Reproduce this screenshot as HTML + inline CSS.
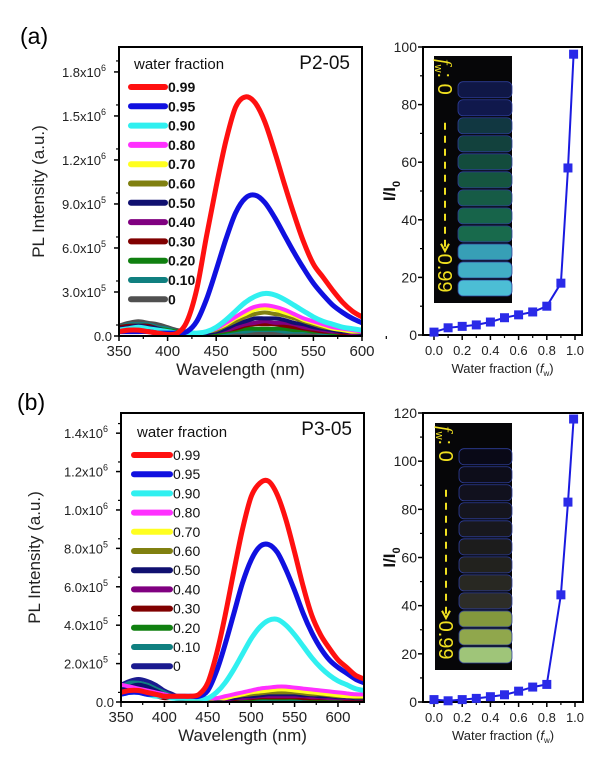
<!DOCTYPE html>
<html><head><meta charset="utf-8"><style>
body{margin:0;background:#fff;width:600px;height:771px;overflow:hidden;font-family:"Liberation Sans",Arial,sans-serif}
svg{position:absolute;left:0;top:0}
</style></head><body>
<svg id="fig" width="600" height="771" viewBox="0 0 600 771" xmlns="http://www.w3.org/2000/svg">
<text x="20" y="44" font-size="23" font-family="Liberation Sans">(a)</text>
<text x="17" y="410" font-size="23" font-family="Liberation Sans">(b)</text>
</svg>
<script>
// ---------- data ----------
const seriesLabels=["0.99","0.95","0.90","0.80","0.70","0.60","0.50","0.40","0.30","0.20","0.10","0"];
const seriesColorsA=["#ff1010","#1010e0","#30f0f0","#ff30ff","#ffff20","#808010","#101070","#800080","#800000","#108010","#108080","#505050"];
const seriesColorsB=["#ff1010","#1010e0","#30f0f0","#ff30ff","#ffff20","#808010","#101070","#800080","#800000","#108010","#108080","#1a1a90"];
const wavelengthsA=[350,360,370,380,390,400,410,420,430,440,450,460,470,480,490,500,510,520,530,540,550,560,570,580,590,600];
const specA099=[0.3,0.4,0.4,0.3,0.2,0.1,0.2,1.0,3.2,6.8,10.2,13.3,15.6,16.3,15.9,14.6,12.6,10.4,8.3,6.4,4.9,4.0,3.1,2.3,1.7,1.3];
const specA095=[0.3,0.3,0.3,0.3,0.2,0.2,0.2,0.3,1.0,2.5,4.5,6.6,8.4,9.4,9.6,9.1,8.1,6.9,5.7,4.6,3.6,2.8,2.1,1.6,1.2,0.9];
const specA090=[0.4,0.5,0.6,0.5,0.4,0.3,0.2,0.2,0.2,0.3,0.6,1.1,1.7,2.3,2.7,2.9,2.8,2.5,2.1,1.7,1.3,1.0,0.8,0.6,0.5,0.4];
const specA080=[0.3,0.4,0.4,0.4,0.3,0.2,0.2,0.2,0.2,0.3,0.5,0.9,1.3,1.7,2.0,2.1,2.0,1.8,1.5,1.2,1.0,0.8,0.6,0.5,0.4,0.3];
const specA070=[0.3,0.3,0.4,0.3,0.3,0.2,0.2,0.2,0.2,0.3,0.5,0.8,1.2,1.5,1.8,1.9,1.8,1.6,1.4,1.1,0.9,0.7,0.5,0.4,0.3,0.3];
const specA060=[0.4,0.5,0.5,0.5,0.4,0.3,0.2,0.2,0.2,0.3,0.4,0.7,1.0,1.3,1.5,1.6,1.5,1.4,1.2,1.0,0.8,0.6,0.5,0.4,0.3,0.3];
const specA050=[0.5,0.6,0.7,0.6,0.5,0.3,0.2,0.2,0.2,0.2,0.3,0.5,0.8,1.0,1.2,1.2,1.2,1.1,0.9,0.8,0.6,0.5,0.4,0.3,0.3,0.2];
const specA040=[0.4,0.5,0.5,0.5,0.4,0.3,0.2,0.2,0.2,0.2,0.3,0.4,0.6,0.8,0.9,1.0,0.9,0.9,0.8,0.6,0.5,0.4,0.3,0.3,0.2,0.2];
const specA030=[0.6,0.7,0.7,0.7,0.5,0.3,0.2,0.2,0.2,0.2,0.3,0.4,0.5,0.7,0.8,0.8,0.8,0.7,0.6,0.5,0.4,0.3,0.3,0.2,0.2,0.2];
const specA020=[0.5,0.6,0.7,0.6,0.5,0.4,0.3,0.2,0.2,0.2,0.2,0.3,0.4,0.5,0.5,0.5,0.5,0.5,0.4,0.4,0.3,0.3,0.2,0.2,0.2,0.2];
const specA010=[0.6,0.8,0.8,0.8,0.6,0.5,0.3,0.2,0.2,0.2,0.2,0.2,0.3,0.3,0.4,0.4,0.4,0.3,0.3,0.3,0.3,0.2,0.2,0.2,0.2,0.2];
const specA000=[0.7,0.9,1.0,0.9,0.8,0.6,0.4,0.3,0.2,0.2,0.2,0.2,0.2,0.2,0.2,0.2,0.2,0.2,0.2,0.2,0.2,0.2,0.2,0.1,0.1,0.1];
const wavelengthsB=[350,360,370,380,390,400,410,420,430,440,450,460,470,480,490,500,510,520,530,540,550,560,570,580,590,600,610,620,630];
const specB099=[0.5,0.6,0.6,0.5,0.4,0.3,0.3,0.3,0.3,0.4,1.0,2.5,4.5,6.8,9.0,10.7,11.4,11.5,10.8,9.5,7.8,6.0,4.5,3.5,2.8,2.2,1.8,1.4,1.2];
const specB095=[0.4,0.5,0.5,0.4,0.4,0.3,0.3,0.3,0.3,0.3,0.6,1.6,3.0,4.6,6.2,7.4,8.1,8.2,7.8,6.9,5.8,4.6,3.6,2.8,2.2,1.8,1.5,1.2,1.0];
const specB090=[0.4,0.5,0.5,0.4,0.3,0.3,0.2,0.2,0.2,0.2,0.2,0.5,1.0,1.7,2.5,3.3,3.9,4.25,4.3,4.0,3.5,2.9,2.3,1.8,1.4,1.1,0.9,0.7,0.6];
const specB080=[0.9,0.8,0.7,0.6,0.5,0.4,0.3,0.2,0.2,0.2,0.2,0.2,0.3,0.4,0.5,0.6,0.7,0.75,0.8,0.8,0.75,0.7,0.65,0.6,0.55,0.5,0.45,0.4,0.4];
const specB070=[0.5,0.6,0.6,0.5,0.4,0.3,0.2,0.2,0.2,0.2,0.2,0.2,0.2,0.3,0.4,0.5,0.55,0.6,0.65,0.65,0.6,0.55,0.5,0.45,0.4,0.35,0.3,0.3,0.3];
const specB060=[0.5,0.6,0.6,0.5,0.4,0.3,0.2,0.2,0.1,0.1,0.1,0.2,0.2,0.3,0.35,0.4,0.45,0.5,0.5,0.5,0.5,0.45,0.4,0.4,0.35,0.3,0.3,0.25,0.25];
const specB050=[0.6,0.8,0.9,0.8,0.6,0.4,0.3,0.2,0.1,0.1,0.1,0.1,0.2,0.2,0.3,0.3,0.35,0.4,0.4,0.4,0.4,0.35,0.35,0.3,0.3,0.25,0.25,0.2,0.2];
const specB040=[0.6,0.6,0.6,0.5,0.4,0.3,0.2,0.2,0.1,0.1,0.1,0.1,0.1,0.2,0.2,0.25,0.3,0.3,0.3,0.3,0.3,0.3,0.25,0.25,0.2,0.2,0.2,0.2,0.2];
const specB030=[0.4,0.5,0.5,0.4,0.3,0.2,0.2,0.1,0.1,0.1,0.1,0.1,0.1,0.15,0.2,0.2,0.25,0.25,0.25,0.25,0.25,0.2,0.2,0.2,0.2,0.2,0.15,0.15,0.15];
const specB020=[0.6,0.8,0.8,0.7,0.5,0.4,0.3,0.2,0.1,0.1,0.1,0.1,0.1,0.1,0.15,0.15,0.2,0.2,0.2,0.2,0.2,0.2,0.15,0.15,0.15,0.15,0.1,0.1,0.1];
const specB010=[0.8,1.0,1.0,0.9,0.7,0.5,0.3,0.2,0.1,0.1,0.1,0.1,0.1,0.1,0.1,0.1,0.1,0.1,0.1,0.1,0.1,0.1,0.1,0.1,0.1,0.1,0.1,0.1,0.1];
const specB000=[0.9,1.1,1.2,1.1,0.9,0.6,0.4,0.2,0.1,0.1,0.1,0.1,0.1,0.1,0.1,0.1,0.1,0.1,0.1,0.1,0.1,0.1,0.1,0.1,0.1,0.1,0.1,0.1,0.1];
const spectraA=[specA099,specA095,specA090,specA080,specA070,specA060,specA050,specA040,specA030,specA020,specA010,specA000];
const spectraB=[specB099,specB095,specB090,specB080,specB070,specB060,specB050,specB040,specB030,specB020,specB010,specB000];
const yTickValsA=[0,3,6,9,12,15,18];
const yTickLabelsA=[["0.0",""],["3.0x10","5"],["6.0x10","5"],["9.0x10","5"],["1.2x10","6"],["1.5x10","6"],["1.8x10","6"]];
const yTickValsB=[0,2,4,6,8,10,12,14];
const yTickLabelsB=[["0.0",""],["2.0x10","5"],["4.0x10","5"],["6.0x10","5"],["8.0x10","5"],["1.0x10","6"],["1.2x10","6"],["1.4x10","6"]];
const xTicksA=[350,400,450,500,550,600];
const xTicksB=[350,400,450,500,550,600];
const fractions=[0,0.1,0.2,0.3,0.4,0.5,0.6,0.7,0.8,0.9,0.95,0.99];
const ratioA=[1,2.5,3,3.5,4.5,6,7,8,10,18,58,97.5];
const ratioB=[1,0.5,1,1.5,2.2,3,4.5,6.2,7.3,44.5,83,117.5];
const ratioTicksA=[0,20,40,60,80,100];
const ratioTicksB=[0,20,40,60,80,100,120];
const fracTicks=[0,0.2,0.4,0.6,0.8,1.0];
const tubeColorsA=["#10184a","#111a50","#123a45","#134540","#14503f","#165a44","#17604a","#186a4e","#1a7050","#3aa8c0","#45b8d0","#50c8e0"];
const tubeColorsB=["#0a0a18","#0e0e1c","#121220","#161620","#1a1a20","#1e1e1e","#242420","#2a2a24","#30302a","#8aa040","#98b050","#a8d080"];

// ---------- drawing ----------
const NS="http://www.w3.org/2000/svg";
const svg=document.getElementById('fig');
function el(tag,attrs,parent){const e=document.createElementNS(NS,tag);for(const k in attrs)e.setAttribute(k,attrs[k]);(parent||svg).appendChild(e);return e;}
function smooth(pts){
  let d='M'+pts[0][0].toFixed(1)+','+pts[0][1].toFixed(1);
  for(let i=0;i<pts.length-1;i++){
    const p0=pts[Math.max(0,i-1)],p1=pts[i],p2=pts[i+1],p3=pts[Math.min(pts.length-1,i+2)];
    const c1=[p1[0]+(p2[0]-p0[0])/6,p1[1]+(p2[1]-p0[1])/6];
    const c2=[p2[0]-(p3[0]-p1[0])/6,p2[1]-(p3[1]-p1[1])/6];
    d+=`C${c1[0].toFixed(1)},${c1[1].toFixed(1)} ${c2[0].toFixed(1)},${c2[1].toFixed(1)} ${p2[0].toFixed(1)},${p2[1].toFixed(1)}`;
  }
  return d;
}

function spectrumPanel(o){
  const g=el('g',{});
  
  
  const sx=v=>o.x0+(v-o.xmin)/(o.xmax-o.xmin)*(o.x1-o.x0);
  const sy=v=>o.y0-(v)/(o.ymax)*(o.y0-o.y1);
  const cp=el('clipPath',{id:'clip-'+o.name},g);
  el('rect',{x:o.x0,y:o.y1,width:o.x1-o.x0,height:o.y0-o.y1},cp);
  for(let s=o.spectra.length-1;s>=0;s--){
    const d=smooth(o.spectra[s].map((v,i)=>[sx(o.wl[i]),sy(v)]));
    const p=el('path',{d:d,fill:'none',stroke:o.colors[s],'stroke-width':s<3?5:4,'stroke-linejoin':'round','clip-path':`url(#clip-${o.name})`},g);
    
    
  }
  const fr=el('rect',{x:o.x0,y:o.y1,width:o.x1-o.x0,height:o.y0-o.y1,fill:'none',stroke:'#000','stroke-width':2},g);
  
  
  o.yTicks.forEach((v,i)=>{
    const y=sy(v);
    el('line',{x1:o.x0-5,x2:o.x0,y1:y,y2:y,stroke:'#000','stroke-width':1.5},g);
    const mid=sy(v+o.yStep/2);
    if(mid>o.y1)el('line',{x1:o.x0-3,x2:o.x0,y1:mid,y2:mid,stroke:'#000','stroke-width':1.2},g);
    const t=el('text',{x:o.x0-7,y:y+5,'font-size':13,'text-anchor':'end',fill:'#222'},g);
    
    
    const lab=o.yLabels[i];
    if(lab[1]){t.textContent=lab[0];const s=el('tspan',{dy:-6,'font-size':9},t);s.textContent=lab[1];t.setAttribute('x',o.x0-13);}
    else t.textContent=lab[0];
  });
  o.xTicks.forEach(v=>{
    const x=sx(v);
    el('line',{x1:x,x2:x,y1:o.y0,y2:o.y0+5,stroke:'#000','stroke-width':1.5},g);
    el('line',{x1:sx(v+25),x2:sx(v+25),y1:o.y0,y2:o.y0+3,stroke:'#000','stroke-width':1.2},g);
    const t=el('text',{x:x,y:o.y0+20,'font-size':15,'text-anchor':'middle',fill:'#222'},g);
    
    
    t.textContent=v;
  });
  const xt=el('text',{x:(o.x0+o.x1)/2,y:o.y0+39,'font-size':17,'text-anchor':'middle',fill:'#222'},g);
  
  
  xt.textContent='Wavelength (nm)';
  const yt=el('text',{x:0,y:0,'font-size':17,'text-anchor':'middle',fill:'#222',transform:`translate(${o.ytx},${(o.y0+o.y1)/2}) rotate(-90)`},g);
  
  
  yt.textContent='PL Intensity (a.u.)';
  const lt=el('text',{x:o.lx+3,y:o.ly-18,'font-size':15,fill:'#111'},g);
  
  
  lt.textContent='water fraction';
  o.labels.forEach((l,i)=>{
    const y=o.ly+i*o.lstep;
    const ln=el('line',{x1:o.lx,x2:o.lx+o.lw,y1:y,y2:y,stroke:o.colors[i],'stroke-width':6,'stroke-linecap':'round'},g);
    
    
    const t=el('text',{x:o.lx+o.lw+3,y:y+5,'font-size':14,'font-weight':o.bold?'bold':'normal',fill:'#111'},g);
    
    
    t.textContent=l;
  });
  const ti=el('text',{x:o.x1-12,y:o.y1+22,'font-size':19,'text-anchor':'end',fill:'#111'},g);
  
  
  ti.textContent=o.title;
}

function ratioPanel(o){
  const g=el('g',{});
  
  
  const sx=v=>o.fx0+v*(o.fx1-o.fx0);
  const sy=v=>o.y0-v/o.ymax*(o.y0-o.y1);
  const ph=el('rect',{x:o.ix,y:o.iy,width:o.iw,height:o.ih,fill:'#060608'},g);
  
  
  const n=o.tubes.length, top=o.iy+o.ih*0.1, th=(o.iy+o.ih-6-top)/n;
  o.tubes.forEach((c,i)=>{
    const r=el('rect',{x:o.ix+24,y:top+i*th+1,width:o.iw-24,height:th-2,rx:5,fill:c,stroke:'#3040a0','stroke-width':0.8,opacity:0.95},g);
    
    
  });
  const ax=o.ix+11;
  const ar=el('line',{x1:ax,x2:ax,y1:o.iy+o.ih*0.27,y2:o.iy+o.ih*0.78,stroke:'#f0e020','stroke-width':2,'stroke-dasharray':'7,6'},g);
  
  
  el('path',{d:`M${ax-4},${o.iy+o.ih*0.76} L${ax},${o.iy+o.ih*0.79} L${ax+4},${o.iy+o.ih*0.76}`,fill:'none',stroke:'#f0e020','stroke-width':2},g);
  const t1=el('text',{x:0,y:0,'font-size':20,fill:'#f0e020',transform:`translate(${ax-7},${o.iy+3}) rotate(90)`},g);
  
  
  t1.innerHTML='<tspan font-style="italic" font-family="Liberation Serif">f</tspan><tspan font-size="11" dy="3">w</tspan><tspan dy="-3">: 0</tspan>';
  const t2=el('text',{x:0,y:0,'font-size':20,fill:'#f0e020',transform:`translate(${ax-7},${o.iy+o.ih*0.8}) rotate(90)`},g);
  
  
  t2.textContent='0.99';
  const fr=el('rect',{x:o.x0,y:o.y1,width:o.x1-o.x0,height:o.y0-o.y1,fill:'none',stroke:'#000','stroke-width':2},g);
  
  
  o.yTicks.forEach(v=>{
    const y=sy(v);
    el('line',{x1:o.x0-5,x2:o.x0,y1:y,y2:y,stroke:'#000','stroke-width':1.5},g);
    const m=sy(v+10); if(m>o.y1+1)el('line',{x1:o.x0-3,x2:o.x0,y1:m,y2:m,stroke:'#000','stroke-width':1.2},g);
    const t=el('text',{x:o.x0-6,y:y+5,'font-size':14,'text-anchor':'end',fill:'#222'},g);
    
    
    t.textContent=v;
  });
  fracTicks.forEach(v=>{
    const x=sx(v);
    el('line',{x1:x,x2:x,y1:o.y0,y2:o.y0+5,stroke:'#000','stroke-width':1.5},g);
    if(v<1)el('line',{x1:sx(v+0.1),x2:sx(v+0.1),y1:o.y0,y2:o.y0+3,stroke:'#000','stroke-width':1.2},g);
    const t=el('text',{x:x,y:o.y0+20,'font-size':13,'text-anchor':'middle',fill:'#222'},g);
    
    
    t.textContent=v.toFixed(1);
  });
  const xt=el('text',{x:(o.x0+o.x1)/2,y:o.y0+38,'font-size':13,'text-anchor':'middle',fill:'#222'},g);
  
  
  xt.innerHTML='Water fraction (<tspan font-style="italic">f</tspan><tspan font-size="8" dy="3">w</tspan><tspan dy="-3">)</tspan>';
  const yt=el('text',{x:0,y:0,'font-size':17,'font-weight':'bold','text-anchor':'middle',fill:'#111',transform:`translate(${o.x0-28},${(o.y0+o.y1)/2}) rotate(-90)`},g);
  
  
  yt.innerHTML='I/I<tspan font-size="11" dy="5">0</tspan>';
  const d=o.vals.map((v,i)=>(i?'L':'M')+sx(fractions[i]).toFixed(1)+','+sy(v).toFixed(1)).join('');
  const ln=el('path',{d:d,fill:'none',stroke:'#1a1ae0','stroke-width':2},g);
  
  
  o.vals.forEach((v,i)=>{
    const m=el('rect',{x:sx(fractions[i])-4.5,y:sy(v)-4.5,width:9,height:9,fill:'#2a2ae8'},g);
    
    
  });
}

spectrumPanel({name:'spectra-chart-a',x0:119,x1:362,y0:336,y1:47,xmin:350,xmax:600,ymax:19.7,yStep:1.5,
  wl:wavelengthsA,spectra:spectraA,colors:seriesColorsA,labels:seriesLabels,yTicks:yTickValsA,yLabels:yTickLabelsA,
  xTicks:xTicksA,ytx:44,lx:131,ly:87,lstep:19.3,lw:34,bold:true,title:'P2-05'});
spectrumPanel({name:'spectra-chart-b',x0:121,x1:364,y0:702,y1:413,xmin:350,xmax:630,ymax:15.05,yStep:1,
  wl:wavelengthsB,spectra:spectraB,colors:seriesColorsB,labels:seriesLabels,yTicks:yTickValsB,yLabels:yTickLabelsB,
  xTicks:xTicksB,ytx:40,lx:134,ly:455,lstep:19.2,lw:36,bold:false,title:'P3-05'});
ratioPanel({name:'ratio-chart-a',x0:423,x1:582,y0:335,y1:47,fx0:434,fx1:575,ymax:100,vals:ratioA,yTicks:ratioTicksA,
  ix:434,iy:56,iw:78,ih:247,tubes:tubeColorsA});
ratioPanel({name:'ratio-chart-b',x0:423,x1:583,y0:702,y1:413,fx0:434,fx1:575,ymax:120,vals:ratioB,yTicks:ratioTicksB,
  ix:435,iy:423,iw:77,ih:247,tubes:tubeColorsB});
</script>
</body></html>
